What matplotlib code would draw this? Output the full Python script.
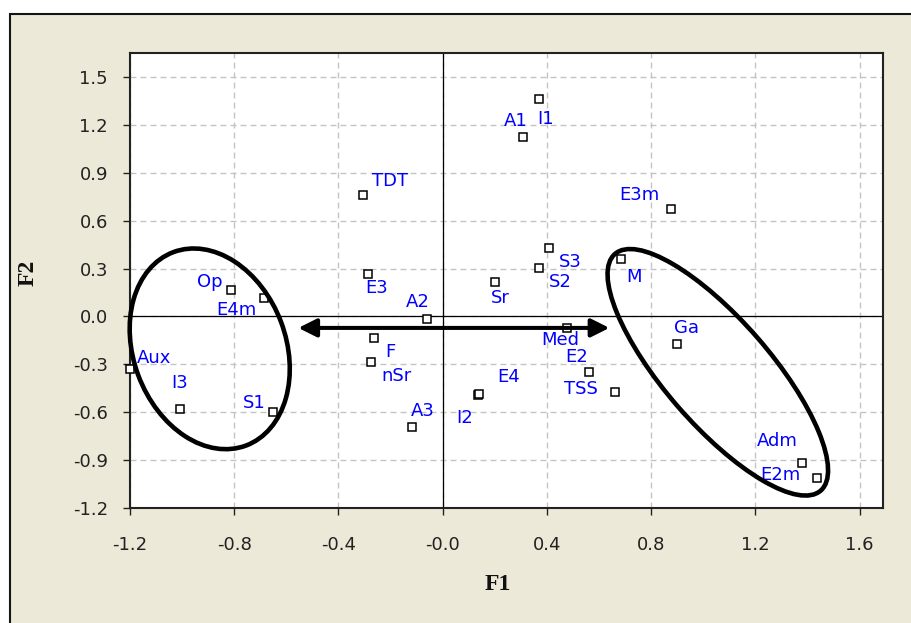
import matplotlib
matplotlib.use('Agg')
import matplotlib.pyplot as plt
from matplotlib.patches import Ellipse, Rectangle, FancyArrowPatch, ArrowStyle
from matplotlib.transforms import Affine2D

# ---- data ----
names = ['TDT', 'E3', 'Op', 'E4m', 'A2', 'F', 'Aux', 'I3', 'S1', 'nSr', 'A3',
         'I2', 'E4', 'Med', 'E2', 'TSS', 'Ga', 'Adm', 'E2m', 'I1', 'A1', 'E3m',
         'S3', 'S2', 'Sr', 'M']
f1 = [-0.307, -0.286, -0.814, -0.686, -0.061, -0.263, -1.200, -1.008, -0.650, -0.276, -0.117,
      0.134, 0.138, 0.476, 0.563, 0.661, 0.901, 1.378, 1.438, 0.370, 0.308, 0.878,
      0.408, 0.370, 0.201, 0.686]
f2 = [0.762, 0.264, 0.167, 0.115, -0.014, -0.134, -0.331, -0.583, -0.596, -0.283, -0.693,
      -0.490, -0.485, -0.072, -0.345, -0.471, -0.171, -0.917, -1.009, 1.359, 1.121, 0.673,
      0.426, 0.302, 0.215, 0.362]

x_ticks = [-1.2, -0.8, -0.4, 0.0, 0.4, 0.8, 1.2, 1.6]
x_tick_labels = ['-1.2', '-0.8', '-0.4', '-0.0', '0.4', '0.8', '1.2', '1.6']
y_ticks = [1.5, 1.2, 0.9, 0.6, 0.3, 0.0, -0.3, -0.6, -0.9, -1.2]
y_tick_labels = ['1.5', '1.2', '0.9', '0.6', '0.3', '0.0', '-0.3', '-0.6', '-0.9', '-1.2']

# group ellipses (centre in data units; semi-axes in pixels; angle in degrees)
ellipse_centres = [(-0.894, -0.203), (1.056, -0.350)]
ellipse_axes = [(103.3, 76.2), (156.8, 52.6)]
ellipse_angles = [-69.4, -49.0]

# double arrow between groups (data units)
arrow_x = (-0.554, 0.640)
arrow_y = -0.072

# ---- label offsets (pixels, left/baseline of text) ----
label_offsets = {
    'TDT': (9, 8.7), 'E3': (-3.3, -19), 'Op': (-34, 2.4), 'E4m': (-47.3, -17.3),
    'A2': (-20.7, 11.4), 'F': (10.7, -19.3), 'Aux': (6.7, 6), 'I3': (-9, 21.3),
    'S1': (-30, 3.3), 'nSr': (10.3, -19.3), 'A3': (-1.6, 10.7), 'I2': (-21, -28.4),
    'E4': (18.7, 12.3), 'Med': (-25, -16.7), 'E2': (-24.3, 9), 'TSS': (-50.7, -2.4),
    'Ga': (-3.3, 11), 'Adm': (-45, 16.7), 'E2m': (-57.3, -2.6), 'I1': (-1.7, -25),
    'A1': (-19, 11.6), 'E3m': (-52, 8.6), 'S3': (10.3, -19), 'S2': (10.3, -19),
    'Sr': (-4, -21), 'M': (4.7, -23),
}

W, H = 912, 623
fig = plt.figure(figsize=(W / 100, H / 100), dpi=100, facecolor='white')

# beige panel with frame
fig.patches.append(Rectangle((10 / W, -0.2), 1.2, (1 - 14 / H) + 0.2,
                             transform=fig.transFigure, facecolor='#ECE9D8',
                             edgecolor='#151515', lw=1.5, zorder=-10))

ax_l, ax_r, ax_t, ax_b = 130, 883, 53, 508
ax = fig.add_axes([ax_l / W, 1 - ax_b / H, (ax_r - ax_l) / W, (ax_b - ax_t) / H])
ax.set_facecolor('white')
xlim = (-1.2, 1.69)
ylim = (-1.2, 1.65)
ax.set_xlim(*xlim)
ax.set_ylim(*ylim)

ax.set_xticks(x_ticks)
ax.set_xticklabels(x_tick_labels)
ax.set_yticks(y_ticks)
ax.set_yticklabels(y_tick_labels)
ax.tick_params(axis='both', direction='out', length=5, width=1.0, color='#222222',
               labelcolor='#222222', labelsize=13)
ax.tick_params(axis='x', pad=15)
ax.tick_params(axis='y', pad=10.8)
for sp in ax.spines.values():
    sp.set_linewidth(1.5)
    sp.set_color('#222222')

ax.grid(True, color='#C4C4C4', ls=(0, (4.3, 2.9)), lw=1.0)
ax.set_axisbelow(True)
ax.axhline(0, color='black', lw=0.9, zorder=1.5)
ax.axvline(0, color='black', lw=0.9, zorder=1.5)

# points
ax.plot(f1, f2, ls='none', marker='s', ms=6.3, mfc='white', mec='black', mew=1.1,
        clip_on=False, zorder=4)

for n, x, y in zip(names, f1, f2):
    dx, dy = label_offsets[n]
    ax.annotate(n, (x, y), xytext=(dx, dy), textcoords='offset pixels',
                ha='left', va='baseline', color='#0000FF', fontsize=13,
                family='DejaVu Sans', zorder=5, annotation_clip=False)

# ellipses drawn in pixel-isotropic space
sx = (ax_r - ax_l) / (xlim[1] - xlim[0])
sy = (ax_b - ax_t) / (ylim[1] - ylim[0])
trans = Affine2D().scale(1 / sx, 1 / sy) + ax.transData
for (cx, cy), (a, b), ang in zip(ellipse_centres, ellipse_axes, ellipse_angles):
    e = Ellipse((cx * sx, cy * sy), 2 * a, 2 * b, angle=ang, transform=trans,
                fill=False, ec='black', lw=3.3, clip_on=False, zorder=6)
    ax.add_patch(e)

arr = FancyArrowPatch((arrow_x[0], arrow_y), (arrow_x[1], arrow_y),
                      arrowstyle=ArrowStyle('<|-|>', head_length=11, head_width=5.5),
                      mutation_scale=1, lw=2.9, color='black', shrinkA=0, shrinkB=0,
                      zorder=6)
ax.add_patch(arr)

fig.text(498 / W, 1 - 585 / H, 'F1', ha='center', va='center', fontsize=17,
         fontweight='bold', family='Liberation Serif', color='#111111')
fig.text(28.3 / W, 1 - 273 / H, 'F2', ha='center', va='center', fontsize=17,
         fontweight='bold', family='Liberation Serif', rotation=90, color='#111111')

fig.savefig('out.png', dpi=100, facecolor=fig.get_facecolor())
